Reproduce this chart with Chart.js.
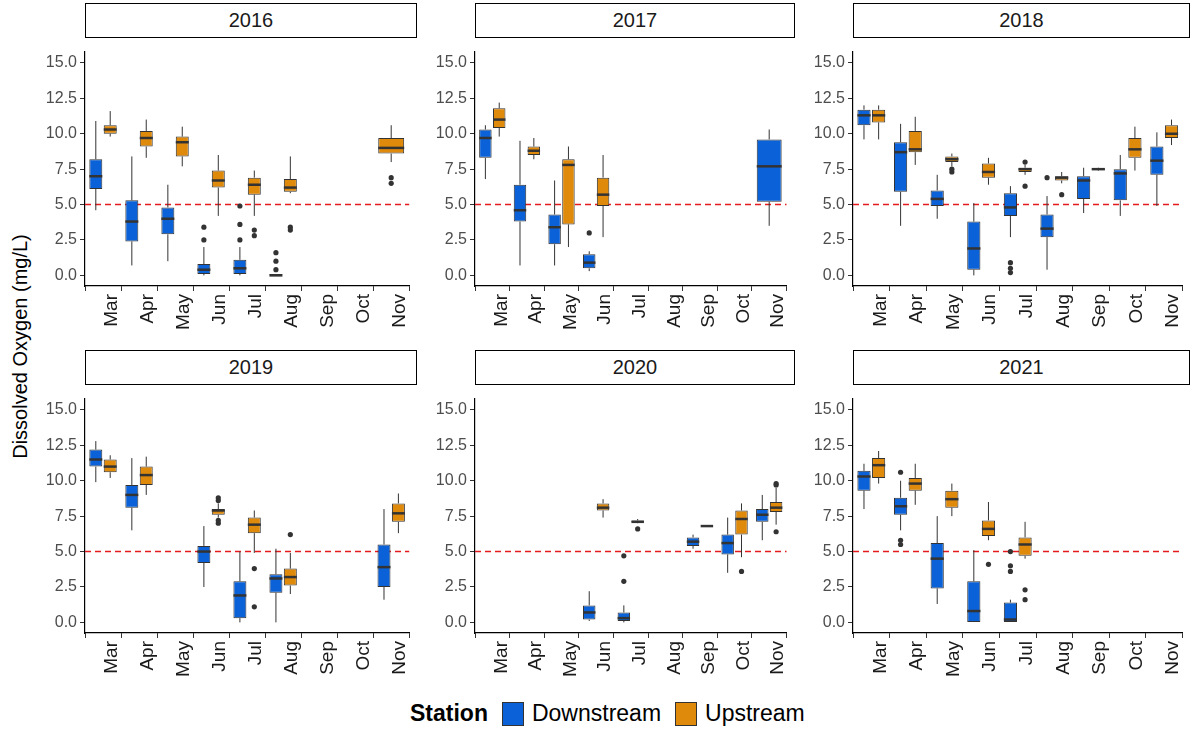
<!DOCTYPE html>
<html><head><meta charset="utf-8">
<script src="https://cdn.jsdelivr.net/npm/chart.js@4.4.0/dist/chart.umd.min.js"></script>
<style>
body{margin:0;background:#fff;font-family:"Liberation Sans",Arial,sans-serif;}
#wrap{position:relative;width:1195px;height:730px;}
.strip{position:absolute;height:35px;border:1.5px solid #000;box-sizing:border-box;text-align:center;font-size:20px;line-height:33px;color:#1a1a1a;}
.pan{position:absolute;height:300px;}
#ylab{position:absolute;left:-100px;top:335px;width:240px;transform:rotate(-90deg);text-align:center;font-size:20px;color:#000;}
#leg{position:absolute;top:700px;left:410px;font-size:23px;display:flex;align-items:center;}
.sw{display:inline-block;width:20px;height:22px;border:1px solid #333;margin:0 8px 0 14px;}
</style></head><body>
<div id="wrap"><div id="ylab">Dissolved Oxygen (mg/L)</div>
<div id="leg"><b>Station</b><span class="sw" style="background:#0b62d8"></span>Downstream<span class="sw" style="background:#e08a0c"></span>Upstream</div>
</div>
<script>
const months = ['Mar','Apr','May','Jun','Jul','Aug','Sep','Oct','Nov'];
const years = ['2016','2017','2018','2019','2020','2021'];
const yTicks = [0, 2.5, 5, 7.5, 10, 12.5, 15];
const threshold = 5;
// [min, q1, median, q3, max] per month
const down2016 = [[4.6,6.1,7.0,8.2,10.9],[0.7,2.4,3.8,5.3,8.4],[1.0,2.9,4.0,4.8,6.4],[0,0.1,0.4,0.8,2.0],[0,0.1,0.5,1.1,2.0],[0,0,0,0.1,0.1],null,null,null];
const up2016 = [[9.8,10.0,10.3,10.6,11.6],[8.3,9.1,9.7,10.2,11.0],[7.7,8.4,9.4,9.8,10.5],[4.2,6.2,6.7,7.4,8.5],[4.2,5.7,6.4,6.9,7.4],[5.8,5.9,6.2,6.8,8.4],null,null,[8.0,8.6,9.0,9.7,10.6]];
const down2017 = [[6.8,8.3,9.7,10.3,10.6],[0.7,3.8,4.6,6.4,9.5],[0.7,2.2,3.4,4.3,6.7],[0.3,0.5,0.9,1.5,1.7],null,null,null,null,[3.5,5.2,7.7,9.6,10.3]];
const up2017 = [[9.8,10.4,11.0,11.8,12.2],[8.2,8.5,8.8,9.1,9.7],[2.0,3.6,7.8,8.2,9.1],[2.7,4.9,5.7,6.9,8.5],null,null,null,null,null];
const down2018 = [[9.6,10.6,11.3,11.7,12.0],[3.5,5.9,8.7,9.4,10.7],[4.0,4.9,5.4,6.0,7.1],[0,0.4,1.9,3.8,5.1],[2.7,4.2,4.8,5.8,6.3],[0.4,2.7,3.3,4.3,5.6],[4.4,5.4,6.7,7.0,7.6],[4.2,5.3,7.2,7.5,8.5],[4.9,7.1,8.1,9.1,10.1]];
const up2018 = [[9.6,10.8,11.3,11.7,12.0],[7.8,8.7,8.9,10.2,11.2],[7.7,8.0,8.2,8.4,8.6],[6.4,6.9,7.3,7.9,8.3],[7.1,7.3,7.5,7.6,7.8],[6.5,6.7,6.9,7.0,7.3],[7.4,7.45,7.5,7.55,7.6],[7.4,8.3,8.9,9.7,10.5],[9.2,9.7,10.0,10.6,11.0]];
const down2019 = [[9.9,11.0,11.5,12.2,12.8],[6.5,8.1,9.0,9.7,11.6],null,[2.5,4.2,5.0,5.4,6.8],[0,0.3,1.9,2.9,5.0],[0,2.1,3.1,3.4,5.2],null,null,[1.6,2.5,3.9,5.5,8.0]];
const up2019 = [[10.2,10.6,11.0,11.5,11.8],[9.0,9.7,10.4,11.0,11.7],null,[7.4,7.6,7.9,8.0,8.4],[4.9,6.3,6.9,7.4,7.9],[2.0,2.6,3.2,3.8,4.9],null,null,[6.3,7.1,7.7,8.4,9.1]];
const down2020 = [null,null,null,[0.1,0.2,0.7,1.2,2.2],[0,0.1,0.3,0.7,1.2],null,[5.2,5.4,5.7,6.0,6.2],[3.5,4.8,5.6,6.2,7.4],[5.8,7.1,7.6,8.0,9.0]];
const up2020 = [null,null,null,[7.4,7.9,8.1,8.4,8.7],[7.0,7.05,7.1,7.2,7.3],null,[6.75,6.78,6.8,6.82,6.85],[4.6,6.2,7.3,7.9,8.4],[6.9,7.8,8.1,8.5,9.5]];
const down2021 = [[8.0,9.3,10.3,10.7,11.2],[6.5,7.6,8.2,8.8,10.0],[1.3,2.4,4.5,5.6,7.5],[0,0,0.8,2.9,5.1],[0,0,0.2,1.4,1.6],null,null,null,null];
const up2021 = [[9.8,10.2,11.1,11.6,12.1],[8.3,9.3,9.8,10.2,11.2],[7.5,8.1,8.7,9.3,9.8],[5.8,6.1,6.6,7.2,8.5],[4.5,4.7,5.5,6.0,7.1],null,null,null,null];
// outliers: [monthIndex, value]
const downOut = {
  '2016': [[3,2.5],[3,3.4],[4,2.5],[4,3.6],[4,4.9],[5,0.4],[5,1.0],[5,1.6]],
  '2017': [[3,3.0]],
  '2018': [[4,0.2],[4,0.5],[4,0.9],[5,6.9]],
  '2019': [],
  '2020': [[4,2.9],[4,4.7]],
  '2021': [[1,5.5],[1,5.8],[1,10.6],[4,3.6],[4,4.0],[4,5.0]]
};
const upOut = {
  '2016': [[4,2.8],[4,3.2],[5,3.2],[5,3.4],[8,6.5],[8,6.9]],
  '2017': [],
  '2018': [[2,7.3],[2,7.5],[4,6.3],[4,8.0],[5,5.7]],
  '2019': [[3,7.0],[3,7.2],[3,8.6],[3,8.8],[4,1.1],[4,3.8],[5,6.2]],
  '2020': [[4,6.6],[7,3.6],[8,6.4],[8,9.7],[8,9.8]],
  '2021': [[3,4.1],[4,1.6],[4,2.3]]
};
const downStats = [down2016,down2017,down2018,down2019,down2020,down2021];
const upStats = [up2016,up2017,up2018,up2019,up2020,up2021];

const boxPlugin = {
  id: 'boxes',
  beforeDatasetsDraw(chart) {
    const c = chart.ctx, y = chart.scales.y, a = chart.chartArea;
    const py = y.getPixelForValue(threshold);
    c.save(); c.strokeStyle = '#e41a1c'; c.lineWidth = 1.5; c.setLineDash([6,4]);
    c.beginPath(); c.moveTo(a.left, py); c.lineTo(a.right, py); c.stroke(); c.restore();
  },
  afterDatasetsDraw(chart) {
    const c = chart.ctx, y = chart.scales.y;
    const stats = chart.options.boxStats;
    c.save();
    chart.data.datasets.forEach((ds, i) => {
      const meta = chart.getDatasetMeta(i);
      meta.data.forEach((el, j) => {
        const s = stats[i][j];
        if (!s) return;
        const x = el.x, w = el.width;
        c.strokeStyle = '#333'; c.lineWidth = 1;
        c.beginPath();
        c.moveTo(x, y.getPixelForValue(s[4])); c.lineTo(x, y.getPixelForValue(s[3]));
        c.moveTo(x, y.getPixelForValue(s[1])); c.lineTo(x, y.getPixelForValue(s[0]));
        c.stroke();
        c.lineWidth = 2.5;
        c.beginPath();
        c.moveTo(x - w/2, y.getPixelForValue(s[2])); c.lineTo(x + w/2, y.getPixelForValue(s[2]));
        c.stroke();
        c.fillStyle = '#333';
        chart.options.boxOut[i].filter(o => o[0] === j).forEach(o => {
          c.beginPath(); c.arc(x, y.getPixelForValue(o[1]), 2.6, 0, Math.PI*2); c.fill();
        });
      });
    });
    c.restore();
  }
};

const colLeft = [85, 475, 853];
const colRight = [417, 795, 1190];
const wrap = document.getElementById('wrap');
years.forEach((yr, k) => {
  const col = k % 3, row = Math.floor(k / 3);
  const top = row === 0 ? 3 : 350;
  const strip = document.createElement('div');
  strip.className = 'strip';
  strip.style.left = colLeft[col] + 'px';
  strip.style.width = (colRight[col] - colLeft[col]) + 'px';
  strip.style.top = top + 'px';
  strip.textContent = yr;
  wrap.appendChild(strip);
  const pan = document.createElement('div');
  pan.className = 'pan';
  pan.style.left = (colLeft[col] - 56) + 'px';
  pan.style.width = (colRight[col] - colLeft[col] + 56) + 'px';
  pan.style.top = (top + 36) + 'px';
  const cv = document.createElement('canvas');
  pan.appendChild(cv);
  wrap.appendChild(pan);
  const dn = downStats[k], up = upStats[k];
  new Chart(cv, {
    type: 'bar',
    data: {
      labels: months,
      datasets: [
        { label: 'Downstream', data: dn.map(s => s ? [s[1], s[3]] : null), backgroundColor: '#0b62d8', borderColor: '#333', borderWidth: 1, borderSkipped: false },
        { label: 'Upstream', data: up.map(s => s ? [s[1], s[3]] : null), backgroundColor: '#e08a0c', borderColor: '#333', borderWidth: 1, borderSkipped: false }
      ]
    },
    options: {
      responsive: true, maintainAspectRatio: false, animation: false,
      boxStats: [dn, up], boxOut: [downOut[yr], upOut[yr]],
      skipNull: true, categoryPercentage: 0.8, barPercentage: 0.9,
      layout: { padding: 0 },
      plugins: { legend: { display: false }, tooltip: { enabled: false } },
      scales: {
        x: {
          afterFit: s => { s.height = 53; },
          grid: { display: true, drawOnChartArea: false, color: '#333', tickLength: 5 },
          border: { color: '#000', width: 1.2 },
          ticks: { minRotation: 90, maxRotation: 90, labelOffset: 9, color: '#1a1a1a', font: { size: 19, family: 'Liberation Sans' } }
        },
        y: {
          min: -0.75, max: 15.8,
          afterFit: s => { s.width = 56; },
          afterBuildTicks: s => { s.ticks = yTicks.map(v => ({ value: v })); },
          grid: { display: true, drawOnChartArea: false, color: '#333', tickLength: 5 },
          border: { color: '#000', width: 1.2 },
          ticks: { color: '#4d4d4d', font: { size: 16, family: 'Liberation Sans' }, callback: v => v.toFixed(1) }
        }
      }
    },
    plugins: [boxPlugin]
  });
});
</script>
</body></html>
